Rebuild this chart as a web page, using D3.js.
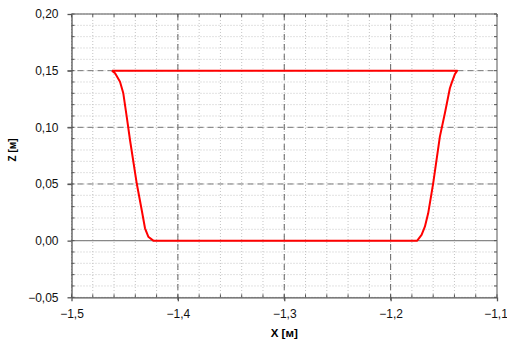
<!DOCTYPE html>
<html><head><meta charset="utf-8">
<script src="https://cdn.jsdelivr.net/npm/d3@7"></script>
<style>body{margin:0;background:#fff}svg{display:block}</style>
</head><body>
<script>
const curveX = [-1.462,-1.1374,-1.1396,-1.1427,-1.1443,-1.149,-1.1537,-1.160,-1.1647,-1.1678,-1.1709,-1.175,
                -1.4231,-1.4278,-1.4309,-1.434,-1.4387,-1.445,-1.4481,-1.4513,-1.4544,-1.459,-1.462];
const curveZ = [0.15,0.15,0.147,0.139,0.1345,0.1124,0.0918,0.0506,0.0241,0.0123,0.005,0.0,
                0.0,0.0035,0.0109,0.027,0.0506,0.0888,0.1094,0.130,0.1403,0.1477,0.15];
const xTicks = [-1.5,-1.4,-1.3,-1.2,-1.1];
const yTicks = [-0.05,0.0,0.05,0.10,0.15,0.20];
const xLabel = "X [м]", yLabel = "Z [м]";

const W=507,H=344, L=71.5, R=497, T=14, B=297.3;
const svg=d3.select("body").append("svg").attr("width",W).attr("height",H);
const x=d3.scaleLinear().domain([-1.5,-1.1]).range([L,R]);
const y=d3.scaleLinear().domain([-0.05,0.20]).range([B,T]);
const fmt=v=>d3.format(".1f")(v).replace(".",",");
const fmtY=v=>d3.format(".2f")(v).replace(".",",").replace("-0,00","0,00");

const xMinor=d3.range(0,21).map(i=>-1.5+i*0.02);
const yMinor=d3.range(0,26).map(i=>-0.05+i*0.01);
const g=svg.append("g");
// minor grid
g.selectAll(".mx").data(xMinor).enter().append("line")
 .attr("x1",d=>x(d)).attr("x2",d=>x(d)).attr("y1",T).attr("y2",B)
 .attr("stroke","#c4c4c4").attr("stroke-dasharray","1,2");
g.selectAll(".my").data(yMinor).enter().append("line")
 .attr("y1",d=>y(d)).attr("y2",d=>y(d)).attr("x1",L).attr("x2",R)
 .attr("stroke","#c4c4c4").attr("stroke-dasharray","1,2");
// major grid
g.selectAll(".Mx").data(xTicks.slice(1,-1)).enter().append("line")
 .attr("x1",d=>x(d)).attr("x2",d=>x(d)).attr("y1",T).attr("y2",B+4)
 .attr("stroke","#666").attr("stroke-dasharray","6,4");
g.selectAll(".My").data([0.05,0.10,0.15]).enter().append("line")
 .attr("y1",d=>y(d)).attr("y2",d=>y(d)).attr("x1",L-4).attr("x2",R)
 .attr("stroke","#777").attr("stroke-dasharray","6,4");
// zero line
g.append("line").attr("x1",L).attr("x2",R).attr("y1",y(0)).attr("y2",y(0)).attr("stroke","#888").attr("stroke-width",1.2);

// frame
g.append("line").attr("x1",L).attr("x2",R).attr("y1",T).attr("y2",T).attr("stroke","#555");
g.append("line").attr("x1",R).attr("x2",R).attr("y1",T).attr("y2",B).attr("stroke","#aaa").attr("stroke-width",2);

// axes
const xAxis=d3.axisBottom(x).tickValues(xTicks).tickFormat(fmt).tickSize(4).tickSizeOuter(0);
const yAxis=d3.axisLeft(y).tickValues(yTicks).tickFormat(fmtY).tickSize(4).tickSizeOuter(0);
const gx=svg.append("g").attr("transform",`translate(0,${B})`).call(xAxis);
const gy=svg.append("g").attr("transform",`translate(${L},0)`).call(yAxis);
[gx,gy].forEach(a=>{a.select(".domain").attr("stroke","#555").attr("stroke-width",1.3);
 a.selectAll(".tick line").attr("stroke","#555").attr("stroke-width",1.3);
 a.selectAll("text").attr("font-family","Liberation Sans, Arial, sans-serif").attr("font-size",12).attr("fill","#111");});
gx.selectAll("text").attr("dy","1.1em").attr("y",8);
gx.selectAll(".tick text").filter(d=>d===-1.1).attr("x",-1.5);
gy.selectAll("text").attr("x",-13);
// minor inward ticks
svg.append("g").selectAll("line").data(xMinor).enter().append("line")
 .attr("x1",d=>x(d)).attr("x2",d=>x(d)).attr("y1",B).attr("y2",B-3).attr("stroke","#555");
svg.append("g").selectAll("line").data(xMinor).enter().append("line")
 .attr("x1",d=>x(d)).attr("x2",d=>x(d)).attr("y1",T).attr("y2",T+3).attr("stroke","#555");
svg.append("g").selectAll("line").data(yMinor).enter().append("line")
 .attr("y1",d=>y(d)).attr("y2",d=>y(d)).attr("x1",L).attr("x2",L+3).attr("stroke","#555");
svg.append("g").selectAll("line").data(yMinor).enter().append("line")
 .attr("y1",d=>y(d)).attr("y2",d=>y(d)).attr("x1",R).attr("x2",R-3).attr("stroke","#555");

// curve
const pts=curveX.map((v,i)=>[v,curveZ[i]]);
svg.append("path").attr("d",d3.line().x(d=>x(d[0])).y(d=>y(d[1]))(pts))
 .attr("fill","none").attr("stroke","#ff0000").attr("stroke-width",2).attr("stroke-linejoin","round");

// titles
svg.append("text").attr("x",(L+R)/2).attr("y",337).attr("text-anchor","middle")
 .attr("font-family","Liberation Sans, Arial, sans-serif").attr("font-weight","bold").attr("font-size",11.5).text(xLabel);
svg.append("text").attr("transform",`translate(16,150) rotate(-90)`).attr("text-anchor","middle")
 .attr("font-family","Liberation Sans, Arial, sans-serif").attr("font-weight","bold").attr("font-size",10).text(yLabel);
</script>
</body></html>
